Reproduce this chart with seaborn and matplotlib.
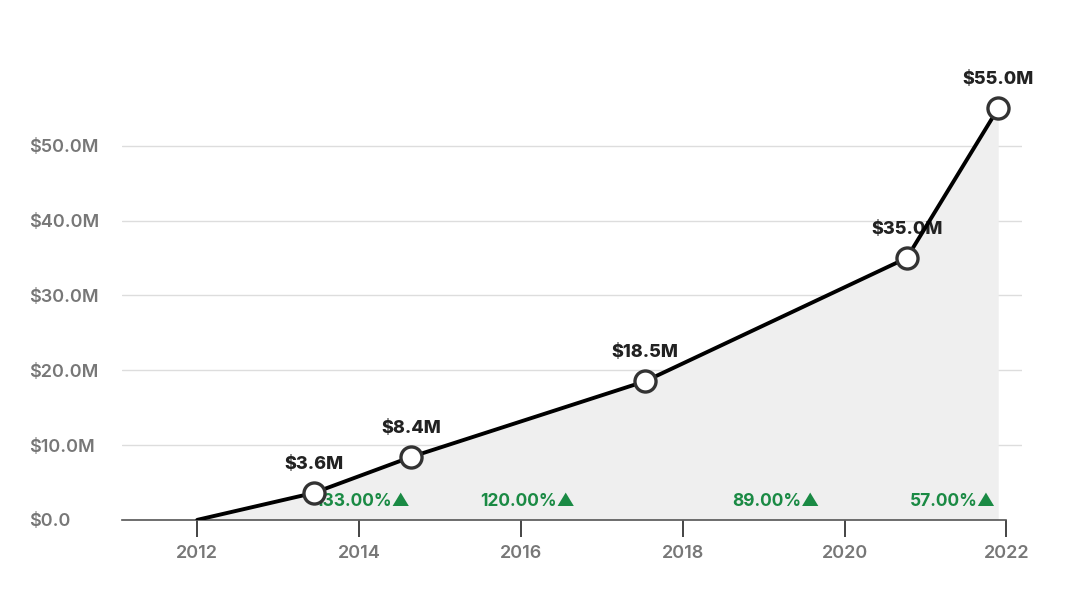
import matplotlib
matplotlib.use("Agg")
import matplotlib.pyplot as plt
import seaborn as sns
import pandas as pd
import numpy as np

# ---- data ----
years = [2012.0, 2013.44, 2014.64, 2017.53, 2020.77, 2021.9]
values = [0.0, 3.6, 8.4, 18.5, 35.0, 55.0]
value_labels = ["", "$3.6M", "$8.4M", "$18.5M", "$35.0M", "$55.0M"]
growth_labels = ["133.00%", "120.00%", "89.00%", "57.00%"]
x_ticks = [2012, 2014, 2016, 2018, 2020, 2022]
y_ticks = [0, 10, 20, 30, 40, 50]
y_tick_labels = ["$0.0", "$10.0M", "$20.0M", "$30.0M", "$40.0M", "$50.0M"]

sns.set_theme(style="white")
plt.rcParams['font.family'] = ['Inter', 'DejaVu Sans']

df = pd.DataFrame({"year": years, "value": values})

fig = plt.figure(figsize=(10.8, 6.01), dpi=100)
ax = fig.add_axes([0.113, 0.135, 0.833, 0.747])

ax.set_xlim(2011.07, 2022.19)
ax.set_ylim(0, 60)

# gridlines
for yv in y_ticks[1:]:
    ax.axhline(yv, color="#dddddd", lw=1, zorder=0)

ax.fill_between(years, values, 0, color="#efefef", zorder=1, lw=0)
sns.lineplot(data=df, x="year", y="value", ax=ax, color="black", lw=2.8, zorder=3)
sns.scatterplot(data=df.iloc[1:], x="year", y="value", ax=ax, s=230,
                color="white", edgecolor="#333333", linewidth=2.4, zorder=4)

for x, y, lab in zip(years, values, value_labels):
    if lab:
        ax.annotate(lab, (x, y), xytext=(0, 20.5), textcoords="offset points",
                    ha="center", va="center", fontsize=13, fontweight="heavy",
                    color="#222222", zorder=2)

for i, lab in enumerate(growth_labels):
    xm = (years[i + 1] + years[i + 2]) / 2
    ax.text(xm, 2.5, lab + "▲", ha="center", va="center", fontsize=12.5,
            fontweight="bold", color="#1a8a44", zorder=2,
            family=['Inter', 'DejaVu Sans'])

ax.set_xticks(x_ticks)
ax.set_xticklabels([str(t) for t in x_ticks])
ax.set_yticks(y_ticks)
ax.set_yticklabels(y_tick_labels)
ax.set_xlabel("")
ax.set_ylabel("")

for s in ["top", "right", "left"]:
    ax.spines[s].set_visible(False)
ax.spines["bottom"].set_color("#555555")
ax.spines["bottom"].set_linewidth(1.2)
ax.spines["bottom"].set_bounds(2011.07, 2022)

ax.tick_params(axis="x", length=12, width=1.4, color="#444444", pad=6,
               labelsize=13, labelcolor="#777777", bottom=True)
ax.tick_params(axis="y", length=0, pad=67, labelsize=13, labelcolor="#777777")
for t in ax.get_yticklabels():
    t.set_horizontalalignment("left")
    t.set_fontweight("semibold")
for t in ax.get_xticklabels():
    t.set_fontweight("semibold")

fig.savefig("out.png", dpi=100)
